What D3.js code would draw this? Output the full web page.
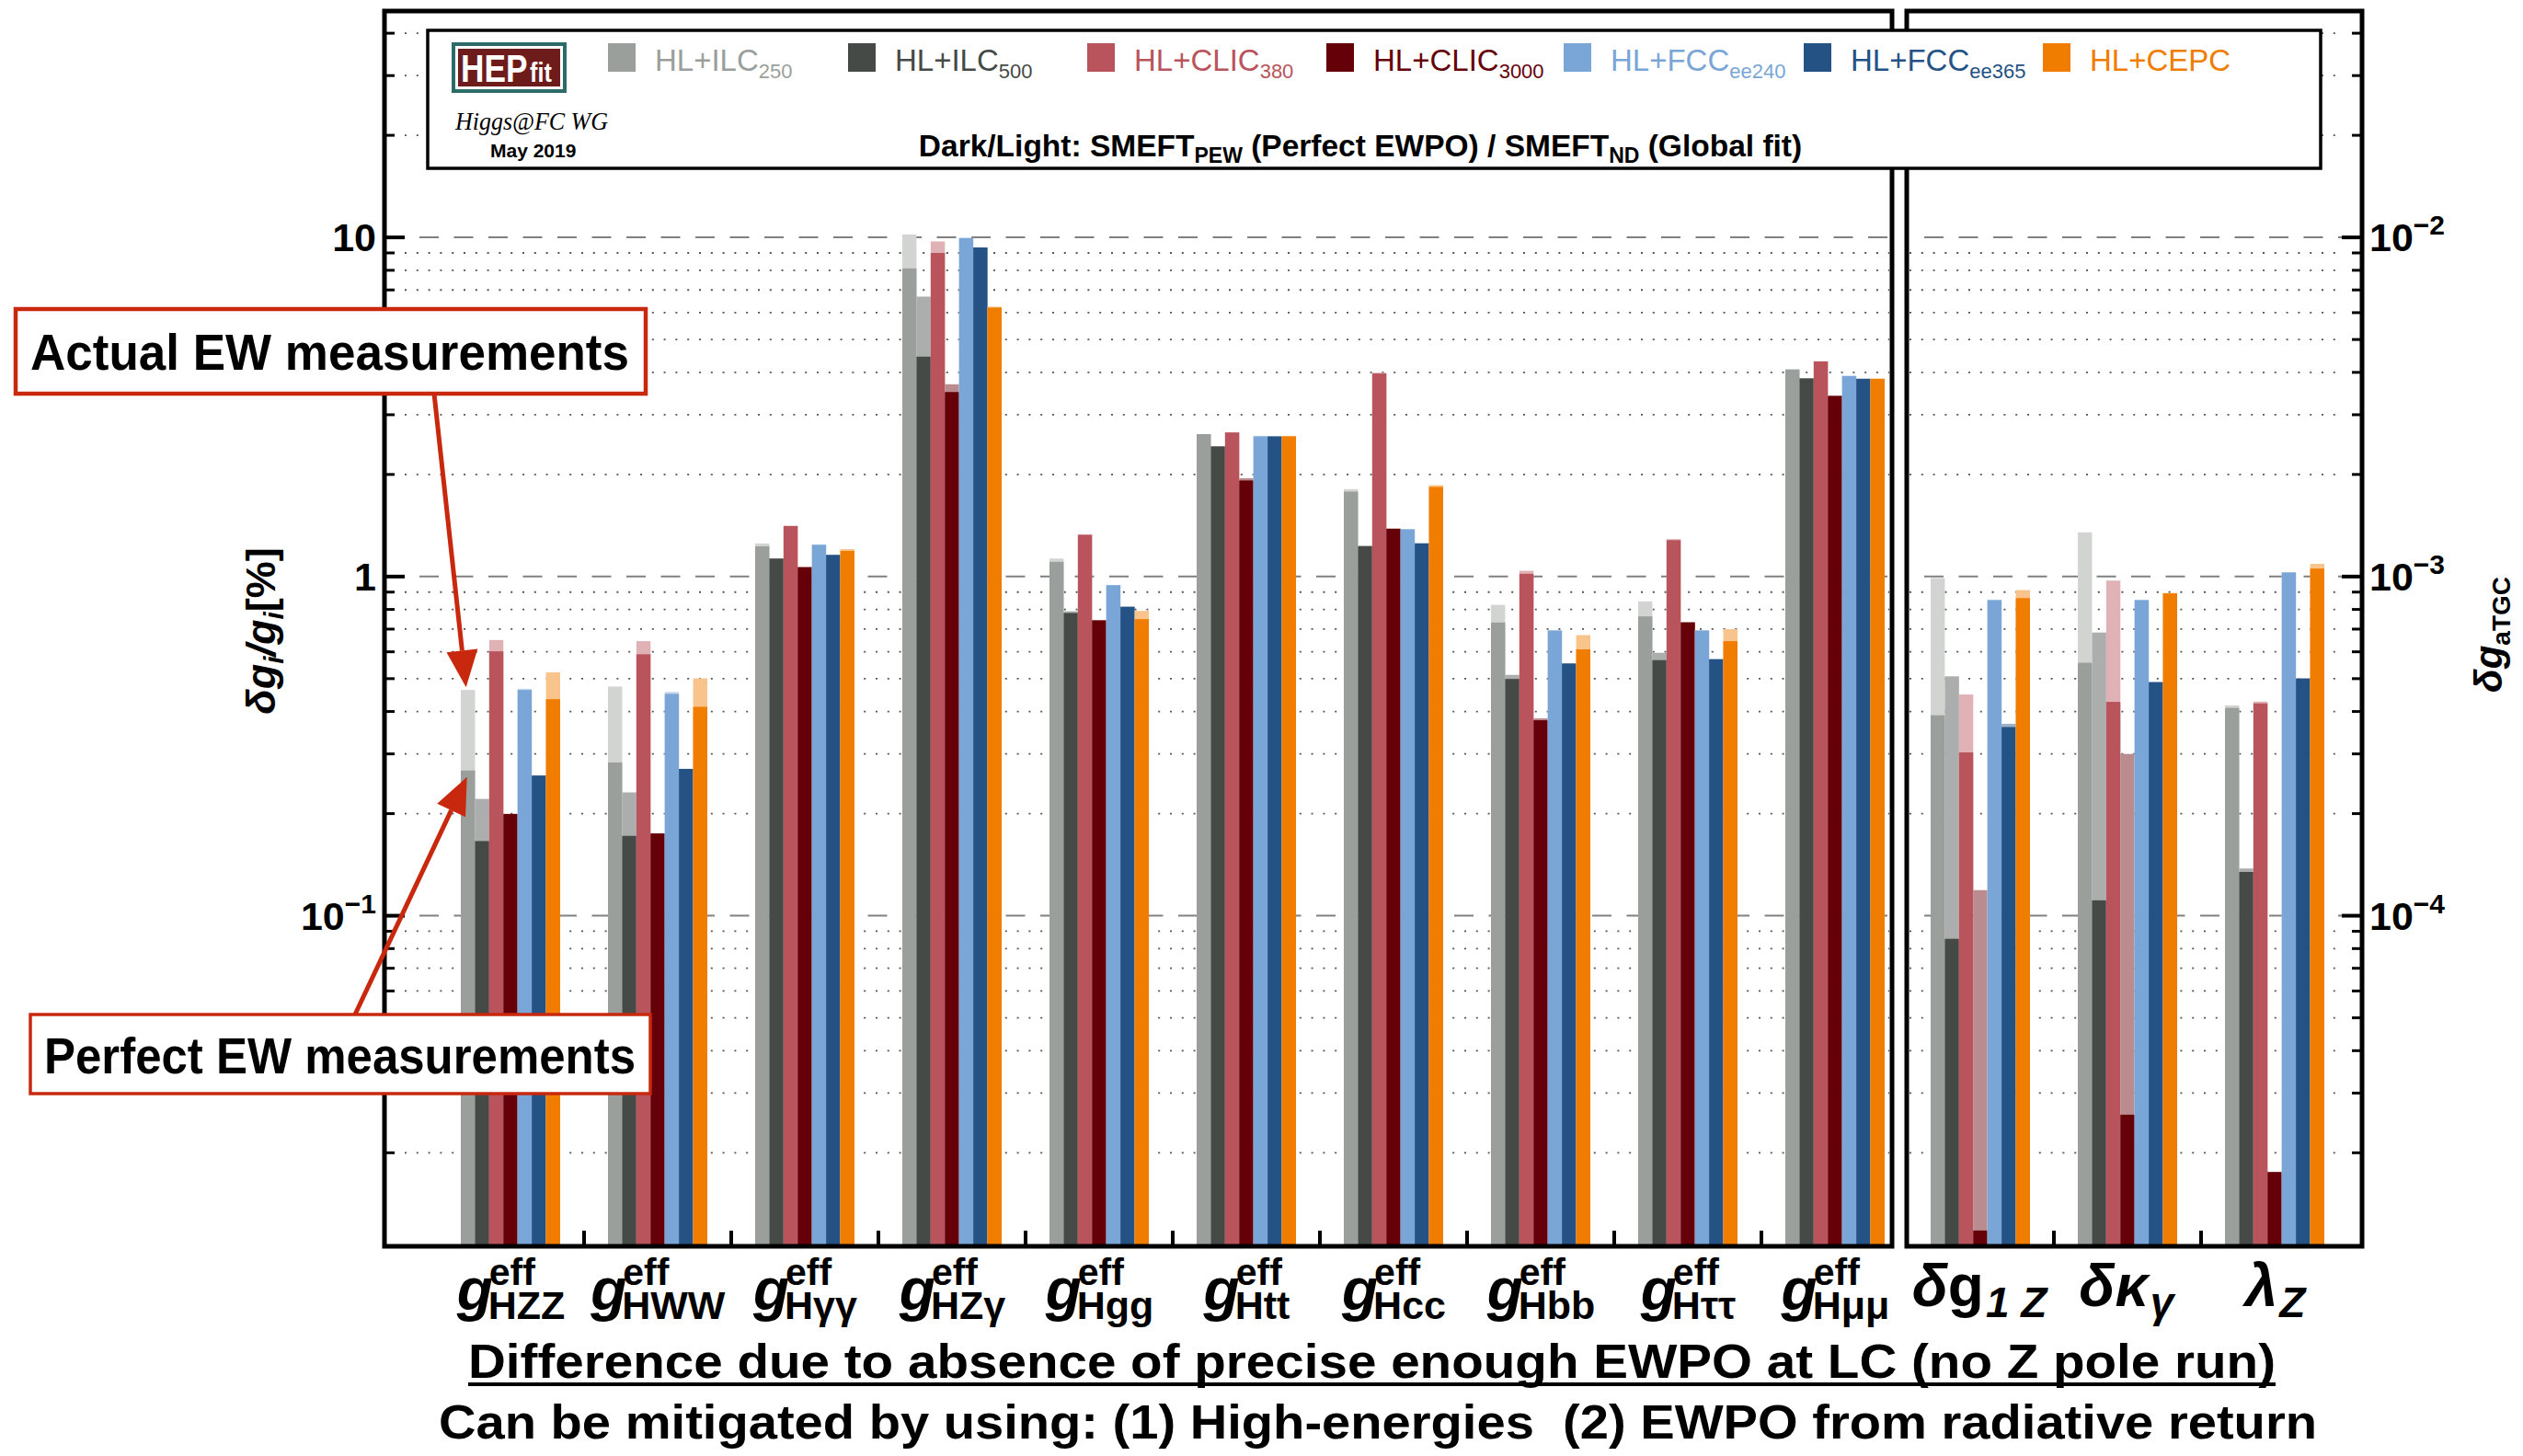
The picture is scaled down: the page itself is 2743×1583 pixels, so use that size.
<!DOCTYPE html>
<html>
<head>
<meta charset="utf-8">
<script src="https://cdn.jsdelivr.net/npm/d3@7"></script>
<style>
  body { margin: 0; background: #fff; }
  text { font-family: "Liberation Sans", Arial, sans-serif; }
</style>
</head>
<body>
<div id="chart"></div>
<script>
// Higgs couplings (left panel, in %) and aTGC (right panel, absolute)
var higgsCouplings = ["HZZ", "HWW", "Hγγ", "HZγ", "Hgg", "Htt", "Hcc", "Hbb", "Hττ", "Hμμ"];
var tgcCouplings = ["dg1Z", "dkg", "lZ"];

// colliders, legend text split into name + subscript
var colliders = ["ILC250", "ILC500", "CLIC380", "CLIC3000", "FCCee240", "FCCee365", "CEPC"];
var colliderBase = ["HL+ILC", "HL+ILC", "HL+CLIC", "HL+CLIC", "HL+FCC", "HL+FCC", "HL+CEPC"];
var colliderSub = ["250", "500", "380", "3000", "ee240", "ee365", ""];
var colors = ["#9a9f9b", "#454a46", "#b9545c", "#650008", "#7aa6d7", "#245285", "#f07c00"];

// Dark bars: SMEFT_PEW (perfect EWPO). 10 Higgs couplings [%] then 3 aTGC
var ilc250Pew   = [0.268, 0.283, 1.228, 8.1, 1.105, 2.63, 1.78, 0.732, 0.763, 4.08,  3.9e-4, 5.57e-4, 4.1e-4];
var ilc500Pew   = [0.166, 0.172, 1.13, 4.45, 0.781, 2.42, 1.23, 0.499, 0.567, 3.84,  8.55e-5, 1.11e-4, 1.346e-4];
var clic380Pew  = [0.602, 0.590, 1.41, 9.0, 1.328, 2.66, 3.97, 1.019, 1.28, 4.31,    3.03e-4, 4.27e-4, 4.226e-4];
var clic3000Pew = [0.1996, 0.1748, 1.066, 3.5, 0.743, 1.92, 1.384, 0.377, 0.732, 3.41, 1.18e-5, 2.59e-5, 1.755e-5];
var fcc240Pew   = [0.463, 0.451, 1.24, 9.96, 0.943, 2.59, 1.378, 0.693, 0.693, 3.90,  8.52e-4, 8.52e-4, 1.028e-3];
var fcc365Pew   = [0.259, 0.271, 1.158, 9.34, 0.814, 2.59, 1.252, 0.554, 0.57, 3.83,  3.6e-4, 4.875e-4, 5.0e-4];
var cepcPew     = [0.435, 0.413, 1.19, 6.21, 0.749, 2.59, 1.838, 0.61, 0.645, 3.83,   8.64e-4, 8.92e-4, 1.056e-3];

// Light bars: SMEFT_ND (global fit)
var ilc250Nd   = [0.463, 0.474, 1.252, 10.2, 1.13, 2.63, 1.81, 0.825, 0.845, 4.08,  9.9e-4, 1.35e-3, 4.17e-4];
var ilc500Nd   = [0.221, 0.231, 1.13, 6.69, 0.79, 2.42, 1.23, 0.513, 0.596, 3.84,   5.08e-4, 6.84e-4, 1.378e-4];
var clic380Nd  = [0.650, 0.645, 1.41, 9.73, 1.33, 2.66, 3.99, 1.04, 1.29, 4.31,     4.49e-4, 9.73e-4, 4.28e-4];
var clic3000Nd = [0.1996, 0.1748, 1.066, 3.69, 0.743, 1.95, 1.384, 0.382, 0.735, 3.41, 1.19e-4, 3.0e-4, 1.755e-5];
var fcc240Nd   = [0.467, 0.457, 1.245, 9.96, 0.945, 2.6, 1.38, 0.695, 0.695, 3.91,  8.55e-4, 8.55e-4, 1.03e-3];
var fcc365Nd   = [0.259, 0.271, 1.16, 9.34, 0.816, 2.59, 1.255, 0.555, 0.572, 3.83, 3.68e-4, 4.9e-4, 5.02e-4];
var cepcNd     = [0.522, 0.501, 1.205, 6.25, 0.792, 2.6, 1.86, 0.672, 0.70, 3.83,   9.12e-4, 8.95e-4, 1.09e-3];

var pewValues = [ilc250Pew, ilc500Pew, clic380Pew, clic3000Pew, fcc240Pew, fcc365Pew, cepcPew];
var ndValues = [ilc250Nd, ilc500Nd, clic380Nd, clic3000Nd, fcc240Nd, fcc365Nd, cepcNd];

// axis tick labels
var leftTickLabels = [["10", ""], ["1", ""], ["10", "−1"]];
var leftTickValues = [10, 1, 0.1];
var rightTickLabels = [["10", "−2"], ["10", "−3"], ["10", "−4"]];
var rightTickValues = [1e-2, 1e-3, 1e-4];

function init() {
    var w = 2743, h = 1583;
    var plotTop = 12, plotBottom = 1355;
    var leftX0 = 418, leftX1 = 2057, rightX0 = 2073, rightX1 = 2568;

    var svg = d3.select("#chart").append("svg")
        .attr("width", w).attr("height", h);
    svg.append("rect").attr("width", w).attr("height", h).attr("fill", "#fff");

    var yL = d3.scaleLog().domain([0.0106, 46.5]).range([plotBottom, plotTop]);
    var yR = d3.scaleLog().domain([1.06e-5, 4.65e-2]).range([plotBottom, plotTop]);

    var xL = d3.scaleBand().domain(higgsCouplings).range([475, 2075])
        .paddingInner(0.325).paddingOuter(0.1625);
    var xR = d3.scaleBand().domain(tgcCouplings).range([2073, 2553])
        .paddingInner(0.325).paddingOuter(0.1625);
    var xIn = d3.scaleBand().domain(colliders).range([0, xL.bandwidth()]);

    // grid lines: dashed at decades, dotted at minor values
    var minors = [];
    [0.01, 0.1, 1, 10].forEach(function (d) {
        for (var k = 2; k <= 9; k++) {
            var v = k * d;
            if (v > 0.0106 && v < 46.5) minors.push(v);
        }
    });
    var grid = svg.append("g");
    [[leftX0 + 22, leftX1 - 3], [rightX0 + 3, rightX1 - 22]].forEach(function (r) {
        grid.selectAll(null).data(minors).enter().append("line")
            .attr("x1", r[0]).attr("x2", r[1])
            .attr("y1", function (d) { return yL(d); })
            .attr("y2", function (d) { return yL(d); })
            .attr("stroke", "#555").attr("stroke-width", 1.8)
            .attr("stroke-dasharray", "2,10.8");
        grid.selectAll(null).data(leftTickValues).enter().append("line")
            .attr("x1", r[0] + 16).attr("x2", r[1])
            .attr("y1", function (d) { return yL(d); })
            .attr("y2", function (d) { return yL(d); })
            .attr("stroke", "#808080").attr("stroke-width", 2)
            .attr("stroke-dasharray", "21,16.5");
    });

    // bars: light (global fit) behind, dark (perfect EWPO) in front
    var bars = svg.append("g");
    function drawPanel(cats, xScale, yScale, offset) {
        colliders.forEach(function (c, s) {
            var col = colors[s];
            var light = d3.interpolateRgb("#ffffff", col)(0.45);
            var rows = cats.map(function (cat, i) {
                return { cat: cat, pew: pewValues[s][i + offset], nd: ndValues[s][i + offset] };
            });
            bars.selectAll(null).data(rows).enter().append("rect")
                .attr("x", function (d) { return xScale(d.cat) + xIn(c); })
                .attr("width", xIn.bandwidth())
                .attr("y", function (d) { return yScale(d.nd); })
                .attr("height", function (d) { return plotBottom - yScale(d.nd); })
                .attr("fill", light);
            bars.selectAll(null).data(rows).enter().append("rect")
                .attr("x", function (d) { return xScale(d.cat) + xIn(c); })
                .attr("width", xIn.bandwidth())
                .attr("y", function (d) { return yScale(d.pew); })
                .attr("height", function (d) { return plotBottom - yScale(d.pew); })
                .attr("fill", col);
        });
    }
    drawPanel(higgsCouplings, xL, yL, 0);
    drawPanel(tgcCouplings, xR, yR, higgsCouplings.length);

    // frames
    var frame = svg.append("g").attr("fill", "none").attr("stroke", "#000").attr("stroke-width", 5);
    frame.append("rect").attr("x", leftX0).attr("y", plotTop)
        .attr("width", leftX1 - leftX0).attr("height", plotBottom - plotTop);
    frame.append("rect").attr("x", rightX0).attr("y", plotTop)
        .attr("width", rightX1 - rightX0).attr("height", plotBottom - plotTop);

    // y ticks
    var allMinor = minors.concat([20, 30, 40]).filter(function (v, i, a) { return a.indexOf(v) === i; });
    var ticks = svg.append("g").attr("stroke", "#000");
    ticks.selectAll(null).data(leftTickValues).enter().append("line")
        .attr("x1", leftX0).attr("x2", leftX0 + 22)
        .attr("y1", function (d) { return yL(d); }).attr("y2", function (d) { return yL(d); })
        .attr("stroke-width", 4);
    ticks.selectAll(null).data(allMinor).enter().append("line")
        .attr("x1", leftX0).attr("x2", leftX0 + 11)
        .attr("y1", function (d) { return yL(d); }).attr("y2", function (d) { return yL(d); })
        .attr("stroke-width", 3);
    ticks.selectAll(null).data(rightTickValues).enter().append("line")
        .attr("x1", rightX1).attr("x2", rightX1 - 22)
        .attr("y1", function (d) { return yR(d); }).attr("y2", function (d) { return yR(d); })
        .attr("stroke-width", 4);
    ticks.selectAll(null).data(allMinor).enter().append("line")
        .attr("x1", rightX1).attr("x2", rightX1 - 11)
        .attr("y1", function (d) { return yL(d); }).attr("y2", function (d) { return yL(d); })
        .attr("stroke-width", 3);

    // x ticks between groups
    function groupTicks(cats, xScale) {
        var gap = xScale.step() * xScale.paddingInner();
        ticks.selectAll(null).data(cats.slice(1)).enter().append("line")
            .attr("x1", function (d) { return xScale(d) - gap / 2; })
            .attr("x2", function (d) { return xScale(d) - gap / 2; })
            .attr("y1", plotBottom).attr("y2", plotBottom - 17)
            .attr("stroke-width", 4);
    }
    groupTicks(higgsCouplings, xL);
    groupTicks(tgcCouplings, xR);

    // y tick labels
    function tickLabel(x, y, parts, anchorRight) {
        var t = svg.append("text").attr("y", y + 15)
            .attr("font-size", 43).attr("font-weight", "bold");
        t.append("tspan").text(parts[0]);
        if (parts[1]) {
            t.append("tspan").attr("font-size", 30).attr("dy", -18).text(parts[1]);
        }
        var len = t.node().getComputedTextLength();
        t.attr("x", anchorRight ? x - len : x);
    }
    leftTickValues.forEach(function (v, i) { tickLabel(409, yL(v), leftTickLabels[i], true); });
    rightTickValues.forEach(function (v, i) { tickLabel(2576, yR(v), rightTickLabels[i], false); });

    // axis titles
    var lt = svg.append("text").attr("transform", "translate(299,686) rotate(-90)")
        .attr("text-anchor", "middle").attr("font-size", 45).attr("font-weight", "bold");
    lt.append("tspan").attr("font-style", "italic").text("δg");
    lt.append("tspan").attr("font-style", "italic").attr("font-size", 30).attr("dy", 9).text("i");
    lt.append("tspan").attr("font-style", "italic").attr("dy", -9).text("/g");
    lt.append("tspan").attr("font-style", "italic").attr("font-size", 30).attr("dy", 9).text("i");
    lt.append("tspan").attr("dy", -9).text("[%]");

    var rt = svg.append("text").attr("transform", "translate(2720,690) rotate(-90)")
        .attr("text-anchor", "middle").attr("font-size", 42).attr("font-weight", "bold");
    rt.append("tspan").attr("font-style", "italic").text("δg");
    rt.append("tspan").attr("font-size", 28).attr("dy", 9).text("aTGC");

    // category labels, each one text element with stacked sup/sub
    function centerGroup(g, cx) {
        var bb = g.node().getBBox();
        g.attr("transform", "translate(" + (cx - bb.x - bb.width / 2) + ",0)");
    }
    higgsCouplings.forEach(function (cat) {
        var g = svg.append("g");
        var t = g.append("text").attr("x", 0).attr("y", 1424).attr("font-weight", "bold");
        t.append("tspan").attr("font-size", 64).attr("font-style", "italic").text("g");
        var sup = t.append("tspan").attr("font-size", 41).attr("dx", -4).attr("dy", -27).text("eff");
        var supW = sup.node().getComputedTextLength();
        t.append("tspan").attr("font-size", 43).attr("dx", -supW - 1).attr("dy", 37).text(cat);
        centerGroup(g, xL(cat) + xL.bandwidth() / 2);
    });
    var tgcMain = ["δg", "δκ", "λ"];
    var tgcSub = ["1 Z", "γ", "Z"];
    tgcCouplings.forEach(function (cat, i) {
        var g = svg.append("g");
        var t = g.append("text").attr("x", 0).attr("y", 1420).attr("font-weight", "bold");
        t.append("tspan").attr("font-size", 64).attr("font-style", "italic").text(tgcMain[i][0]);
        if (tgcMain[i].length > 1) {
            t.append("tspan").attr("font-size", 64).attr("font-style", i === 0 ? "normal" : "italic")
                .text(tgcMain[i][1]);
        }
        t.append("tspan").attr("font-size", 46).attr("font-style", "italic").attr("dx", 2).attr("dy", 12)
            .text(tgcSub[i]);
        centerGroup(g, xR(cat) + xR.bandwidth() / 2);
    });

    // bottom notes
    svg.append("text").attr("x", 509).attr("y", 1498)
        .attr("font-size", 52).attr("font-weight", "bold")
        .attr("textLength", 1965).attr("lengthAdjust", "spacingAndGlyphs")
        .text("Difference due to absence of precise enough EWPO at LC (no Z pole run)");
    svg.append("line").attr("x1", 509).attr("x2", 2474).attr("y1", 1505).attr("y2", 1505)
        .attr("stroke", "#000").attr("stroke-width", 4);
    svg.append("text").attr("x", 477).attr("y", 1564)
        .attr("font-size", 52).attr("font-weight", "bold")
        .attr("textLength", 2042).attr("lengthAdjust", "spacingAndGlyphs")
        .attr("xml:space", "preserve")
        .text("Can be mitigated by using: (1) High-energies  (2) EWPO from radiative return");

    // legend box
    var lg = svg.append("g");
    lg.append("rect").attr("x", 465).attr("y", 33).attr("width", 2058).attr("height", 150)
        .attr("fill", "#fff").attr("stroke", "#000").attr("stroke-width", 3.5);
    // HEPfit logo
    lg.append("rect").attr("x", 493).attr("y", 48).attr("width", 121).attr("height", 51)
        .attr("fill", "#fff").attr("stroke", "#2d6b68").attr("stroke-width", 4);
    lg.append("rect").attr("x", 498).attr("y", 53).attr("width", 111).attr("height", 41)
        .attr("fill", "#6e1b1b");
    var logo = lg.append("text").attr("transform", "translate(501,89) scale(0.84,1)")
        .attr("font-weight", "bold").attr("fill", "#fff");
    logo.append("tspan").attr("font-size", 42).text("HEP");
    logo.append("tspan").attr("font-size", 30).attr("dx", 3).text("fit");
    lg.append("text").attr("x", 495).attr("y", 141).attr("font-size", 28)
        .style("font-family", "'Liberation Serif', serif").attr("font-style", "italic")
        .attr("textLength", 166).attr("lengthAdjust", "spacingAndGlyphs").text("Higgs@FC WG");
    lg.append("text").attr("x", 533).attr("y", 171).attr("font-size", 21).attr("font-weight", "bold")
        .text("May 2019");

    var legendX = [661, 922, 1182, 1442, 1700, 1961, 2221];
    colliders.forEach(function (c, i) {
        lg.append("rect").attr("x", legendX[i]).attr("y", 47).attr("width", 30).attr("height", 31)
            .attr("fill", colors[i]);
        var t = lg.append("text").attr("x", legendX[i] + 51).attr("y", 77)
            .attr("font-size", 33).attr("fill", colors[i]);
        t.append("tspan").text(colliderBase[i]);
        if (colliderSub[i]) t.append("tspan").attr("font-size", 22).attr("dy", 8).text(colliderSub[i]);
    });

    var ht = lg.append("text").attr("x", 1479).attr("y", 170).attr("text-anchor", "middle")
        .attr("font-size", 33.5).attr("font-weight", "bold");
    ht.append("tspan").text("Dark/Light: SMEFT");
    ht.append("tspan").attr("font-size", 23).attr("dy", 7).text("PEW");
    ht.append("tspan").attr("dy", -7).text(" (Perfect EWPO) / SMEFT");
    ht.append("tspan").attr("font-size", 23).attr("dy", 7).text("ND");
    ht.append("tspan").attr("dy", -7).text(" (Global fit)");

    // annotations
    var red = "#c8290e";
    function arrow(x1, y1, x2, y2) {
        var a = Math.atan2(y2 - y1, x2 - x1), L = 40, W = 17;
        var bx = x2 - L * Math.cos(a), by = y2 - L * Math.sin(a);
        svg.append("line").attr("x1", x1).attr("y1", y1).attr("x2", bx).attr("y2", by)
            .attr("stroke", red).attr("stroke-width", 5);
        var pts = [[x2, y2],
            [bx + W * Math.sin(a), by - W * Math.cos(a)],
            [bx - W * Math.sin(a), by + W * Math.cos(a)]];
        svg.append("polygon").attr("points", pts.map(function (p) { return p.join(","); }).join(" "))
            .attr("fill", red);
    }
    var barCx = xL("HZZ") + xIn("ILC250") + xIn.bandwidth() / 2;
    arrow(472, 428, barCx - 2, yL(ilc250Nd[0]) - 3);
    arrow(386, 1103, barCx - 1, yL(ilc250Pew[0]) + 7);

    function noteBox(x, y, bw, bh, sw, label, tx, ty, tl) {
        svg.append("rect").attr("x", x).attr("y", y).attr("width", bw).attr("height", bh)
            .attr("fill", "#fff").attr("stroke", red).attr("stroke-width", sw);
        svg.append("text").attr("x", tx).attr("y", ty).attr("font-size", 56).attr("font-weight", "bold")
            .attr("textLength", tl).attr("lengthAdjust", "spacingAndGlyphs").text(label);
    }
    noteBox(17, 336, 685, 92, 4.5, "Actual EW measurements", 33, 402, 651);
    noteBox(33, 1103, 674, 86, 3.5, "Perfect EW measurements", 48, 1167, 643);
}

window.onload = init;
</script>
</body>
</html>
